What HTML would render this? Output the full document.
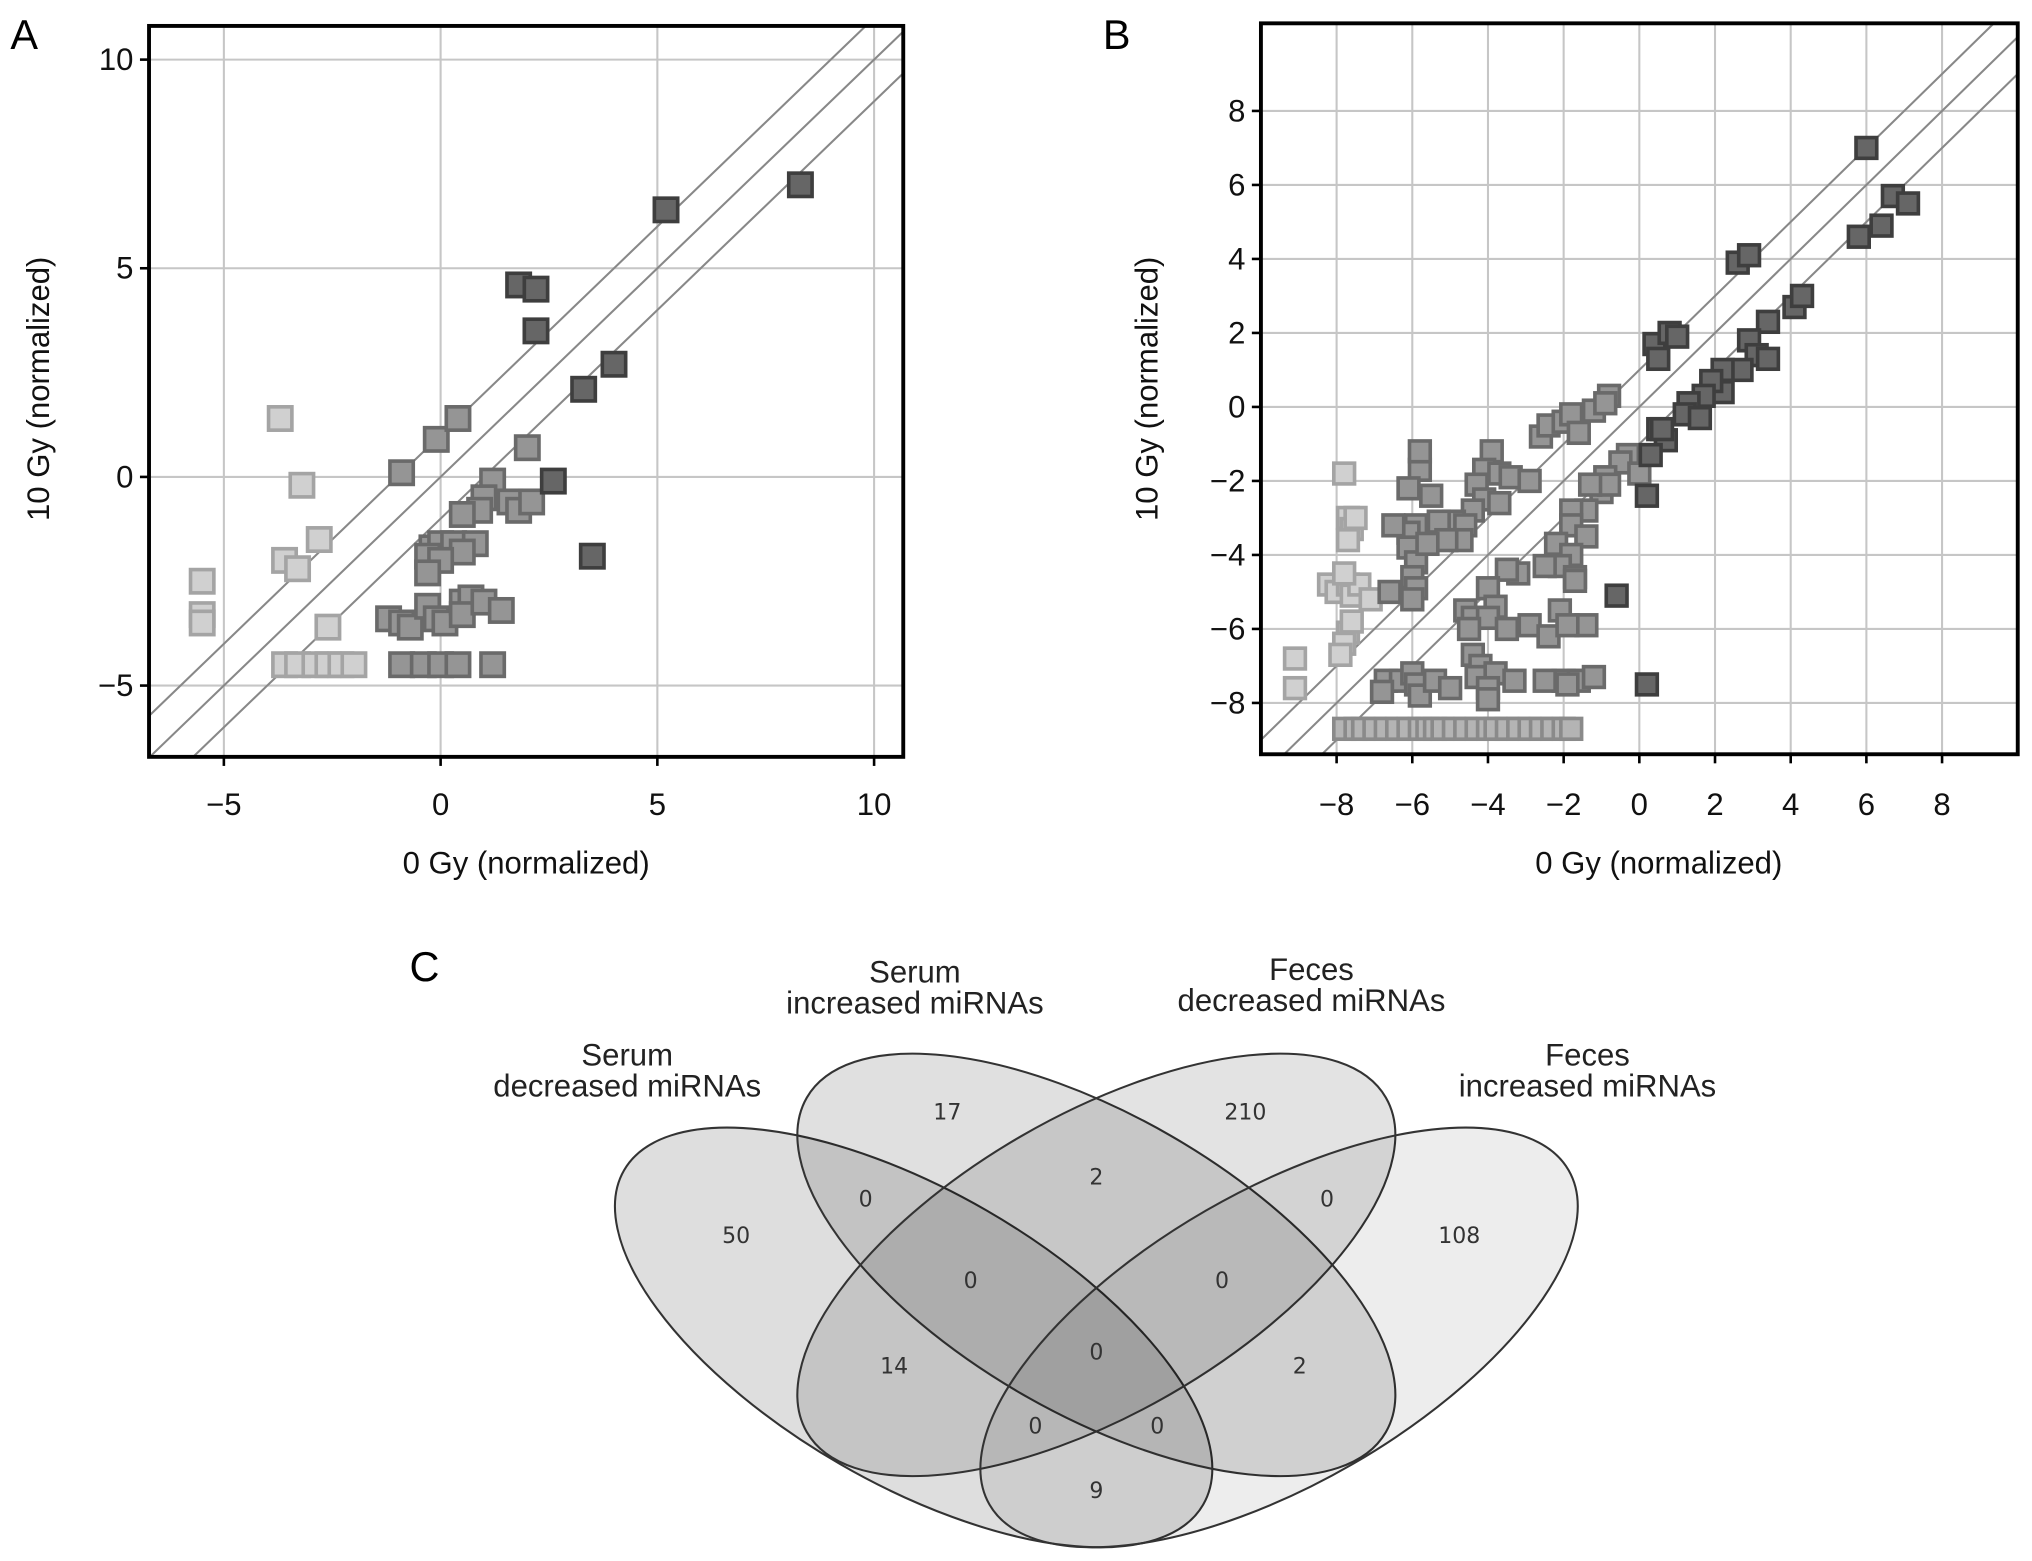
<!DOCTYPE html>
<html><head><meta charset="utf-8"><style>
html,body{margin:0;padding:0;background:#fff;}
svg{display:block;font-family:"Liberation Sans",sans-serif;}
.num{font-family:"DejaVu Sans","Liberation Sans",sans-serif;font-size:17px;fill:#333;text-anchor:middle;}
.lab{font-size:24px;fill:#222;text-anchor:middle;}
.tick{font-size:24px;fill:#111;}
</style></head><body>
<svg id="fig" width="2032" height="1561" viewBox="0 0 1568 1204.5" preserveAspectRatio="none" xmlns="http://www.w3.org/2000/svg">
<defs>
<clipPath id="clipA"><rect x="115" y="20" width="582" height="564"/></clipPath>
<clipPath id="clipB"><rect x="973" y="18" width="584" height="564"/></clipPath>
</defs>
<text x="8" y="38" font-size="32">A</text>
<text x="851" y="38" font-size="32">B</text>
<text x="316" y="757" font-size="32">C</text>
<g id="panelA"></g>
<g id="panelB"></g>
<g id="venn">
<ellipse cx="705" cy="1032" rx="258" ry="113" transform="rotate(30 705 1032)" fill="rgba(0,0,0,0.13)" stroke="#333" stroke-width="1.6"/>
<ellipse cx="846" cy="976" rx="258" ry="115" transform="rotate(30 846 976)" fill="rgba(0,0,0,0.12)" stroke="#333" stroke-width="1.6"/>
<ellipse cx="846" cy="976" rx="258" ry="115" transform="rotate(-30 846 976)" fill="rgba(0,0,0,0.11)" stroke="#333" stroke-width="1.6"/>
<ellipse cx="987" cy="1032" rx="258" ry="113" transform="rotate(-30 987 1032)" fill="rgba(0,0,0,0.07)" stroke="#333" stroke-width="1.6"/>
<text class="lab" x="484" y="822">Serum</text>
<text class="lab" x="484" y="846">decreased miRNAs</text>
<text class="lab" x="706" y="758">Serum</text>
<text class="lab" x="706" y="782">increased miRNAs</text>
<text class="lab" x="1012" y="756">Feces</text>
<text class="lab" x="1012" y="780">decreased miRNAs</text>
<text class="lab" x="1225" y="822">Feces</text>
<text class="lab" x="1225" y="846">increased miRNAs</text>
</g>
</svg>
<script>
var NS='http://www.w3.org/2000/svg';
// ----- Panel A data -----
var aLightX=[-5.5,-5.5,-5.5,-3.7,-3.2,-3.6,-3.3,-2.8,-2.6,-3.6,-3.3,-2.9,-2.6,-2.3,-2.0];
var aLightY=[-2.5,-3.3,-3.5,1.4,-0.2,-2.0,-2.2,-1.5,-3.6,-4.5,-4.5,-4.5,-4.5,-4.5,-4.5];
var aMedX=[-0.9,-0.1,0.4,2.0,1.2,1.0,0.9,0.5,1.6,1.8,2.1,-0.2,0.0,0.3,0.8,0.5,-0.3,0.0,-0.3,-1.2,-0.9,-0.7,-0.3,-0.1,0.1,0.5,0.7,0.5,1.0,1.4,-0.9,-0.4,0.0,0.4,1.2];
var aMedY=[0.1,0.9,1.4,0.7,-0.1,-0.5,-0.8,-0.9,-0.6,-0.8,-0.6,-1.7,-1.6,-1.6,-1.6,-1.8,-1.9,-2.0,-2.3,-3.4,-3.5,-3.6,-3.1,-3.4,-3.5,-3.0,-2.9,-3.3,-3.0,-3.2,-4.5,-4.5,-4.5,-4.5,-4.5];
var aDarkX=[8.3,5.2,1.8,2.2,2.2,3.3,4.0,2.6,3.5];
var aDarkY=[7.0,6.4,4.6,4.5,3.5,2.1,2.7,-0.1,-1.9];
var aTicks=[-5,0,5,10];
var aDiagOffsets=[-1,0,1];
// ----- Panel B data -----
var bLightX=[-7.8,-7.7,-7.6,-7.7,-7.5,-8.2,-8.0,-7.7,-7.6,-7.4,-7.1,-7.8,-7.7,-7.8,-7.9,-9.1,-9.1,-7.6];
var bLightY=[-1.8,-3.0,-3.3,-3.6,-3.0,-4.8,-5.0,-4.8,-5.1,-4.8,-5.2,-4.5,-6.1,-6.4,-6.7,-6.8,-7.6,-5.8];
var bRowX=[-7.8,-7.5,-7.3,-7.0,-6.7,-6.4,-6.1,-5.8,-5.6,-5.4,-5.2,-4.9,-4.6,-4.3,-4.0,-3.8,-3.5,-3.2,-2.9,-2.6,-2.3,-2.0,-1.8];
var bRowY=[-8.7,-8.7,-8.7,-8.7,-8.7,-8.7,-8.7,-8.7,-8.7,-8.7,-8.7,-8.7,-8.7,-8.7,-8.7,-8.7,-8.7,-8.7,-8.7,-8.7,-8.7,-8.7,-8.7];
var bMedX=[-0.3,-0.5,0.0,-0.9,-1.0,-0.8,-1.3,-1.4,-1.8,-1.8,-1.4,-2.2,-1.8,-2.1,-1.7,-1.7,-2.5,-3.2,-3.5,-4.0,-3.8,-4.6,-4.4,-4.0,-4.5,-3.5,-2.9,-2.4,-2.1,-1.4,-1.9,-4.4,-4.2,-4.3,-3.8,-3.3,-4.0,-4.0,-2.0,-1.6,-1.2,-2.5,-1.9,
 -2.6,-2.4,-2.0,-1.8,-1.6,-1.2,-0.8,-0.9,
 -3.9,-4.1,-4.3,-3.7,-3.4,-2.9,-4.1,-4.4,-3.7,-4.9,-4.6,-4.7,-5.3,-5.1,-5.9,-6.1,-6.1,-5.9,-5.6,-5.5,-5.8,-5.8,-6.1,-6.5,-6.6,-6.0,-5.9,-6.0,
 -6.7,-6.3,-6.0,-5.9,-5.8,-5.4,-5.0,-6.8];
var bMedY=[-1.3,-1.5,-1.8,-1.9,-2.3,-2.1,-2.1,-2.8,-2.8,-3.2,-3.5,-3.7,-4.0,-4.3,-4.6,-4.7,-4.3,-4.5,-4.4,-4.9,-5.4,-5.5,-5.7,-5.7,-6.0,-6.0,-5.9,-6.2,-5.5,-5.9,-5.9,-6.7,-7.0,-7.3,-7.2,-7.4,-7.6,-7.9,-7.4,-7.4,-7.3,-7.4,-7.5,
 -0.8,-0.5,-0.4,-0.2,-0.7,-0.1,0.3,0.1,
 -1.2,-1.7,-2.1,-1.8,-1.9,-2.0,-2.5,-2.8,-2.6,-3.1,-3.2,-3.6,-3.1,-3.6,-3.2,-3.4,-3.8,-4.2,-3.7,-2.4,-1.7,-1.2,-2.2,-3.2,-5.0,-4.6,-4.9,-5.2,
 -7.4,-7.4,-7.2,-7.5,-7.8,-7.4,-7.6,-7.7];
var bDarkX=[6.0,6.7,7.1,5.8,6.4,2.6,2.9,4.1,4.3,3.4,2.9,3.1,3.4,2.7,2.2,2.2,1.9,1.7,1.3,1.2,1.6,0.5,0.7,0.3,0.6,0.4,0.5,0.8,1.0,0.2,-0.6,0.2];
var bDarkY=[7.0,5.7,5.5,4.6,4.9,3.9,4.1,2.7,3.0,2.3,1.8,1.4,1.3,1.0,1.0,0.4,0.7,0.3,0.1,-0.2,-0.3,-0.6,-0.9,-1.3,-0.6,1.7,1.3,2.0,1.9,-7.5,-5.1,-2.4];
var bTicks=[-8,-6,-4,-2,0,2,4,6,8];
var bDiagOffsets=[-1,0,1];
// ----- Venn data -----
var vennCounts=['50','17','210','108','0','2','0','0','0','0','14','2','0','0','9'];
var vennNames=['only-serum-dec','only-serum-inc','only-feces-dec','only-feces-inc','sdec-sinc','sinc-fdec','fdec-finc','sdec-sinc-fdec','sinc-fdec-finc','all-four','sdec-fdec','sinc-finc','sdec-fdec-finc','sdec-sinc-finc','sdec-finc'];
var vennLX=[568,731,961,1126,668,846,1024,749,943,846,690,1003,799,893,846];
var vennLY=[959,864,864,959,931,914,931,994,994,1049,1060,1060,1106,1106,1156];

function mk(parent,tag,attrs){var e=document.createElementNS(NS,tag);for(var k in attrs)e.setAttribute(k,attrs[k]);parent.appendChild(e);return e;}

function panel(g,cfg){
  var sx=cfg.sx, sy=cfg.sy, f=cfg.frame;
  var grid=mk(g,'g',{'clip-path':'url(#'+cfg.clip+')'});
  
  
  cfg.xGrid.forEach(function(v){mk(grid,'line',{x1:sx(v),x2:sx(v),y1:f.y,y2:f.y+f.h,stroke:'#c6c6c6','stroke-width':1.6});});
  cfg.yGrid.forEach(function(v){mk(grid,'line',{x1:f.x,x2:f.x+f.w,y1:sy(v),y2:sy(v),stroke:'#c6c6c6','stroke-width':1.6});});
  cfg.diag.forEach(function(o){
    var l=mk(grid,'line',{x1:sx(-20),y1:sy(-20+o),x2:sx(20),y2:sy(20+o),stroke:'#888','stroke-width':1.6});
    
    
  });
  var pts=mk(g,'g',{'clip-path':'url(#'+cfg.clip+')'});
  cfg.groups.forEach(function(gr){
    for(var i=0;i<gr.x.length;i++){
      var s=cfg.size;
      var r=mk(pts,'rect',{x:sx(gr.x[i])-s/2,y:sy(gr.y[i])-s/2,width:s,height:s,fill:gr.fill,stroke:gr.stroke,'stroke-width':2.8});
      
      
    }
  });
  var fr=mk(g,'rect',{x:f.x,y:f.y,width:f.w,height:f.h,fill:'none',stroke:'#000','stroke-width':3});
  
  
  cfg.xTicks.forEach(function(v){
    mk(g,'line',{x1:sx(v),x2:sx(v),y1:f.y+f.h,y2:f.y+f.h+7,stroke:'#000','stroke-width':2});
    var t=mk(g,'text',{x:sx(v),y:629,'text-anchor':'middle','class':'tick'});
    t.textContent=(v<0?'\u2212'+(-v):''+v);
    
    
  });
  cfg.yTicks.forEach(function(v){
    mk(g,'line',{x1:f.x-7,x2:f.x,y1:sy(v),y2:sy(v),stroke:'#000','stroke-width':2});
    var t=mk(g,'text',{x:f.x-12,y:sy(v)+8,'text-anchor':'end','class':'tick'});
    t.textContent=(v<0?'\u2212'+(-v):''+v);
    
    
  });
  var xt=mk(g,'text',{x:cfg.xTitle[0],y:cfg.xTitle[1],'text-anchor':'middle','font-size':24,fill:'#111'});
  xt.textContent='0 Gy (normalized)';
  
  
  var yt=mk(g,'text',{x:0,y:0,'text-anchor':'middle','font-size':24,fill:'#111',transform:'translate('+cfg.yTitle[0]+','+cfg.yTitle[1]+') rotate(-90)'});
  yt.textContent='10 Gy (normalized)';
  
  
}
var LIGHT={fill:'#d0d0d0',stroke:'#a4a4a4'}, MED={fill:'#959595',stroke:'#6a6a6a'}, DARK={fill:'#666',stroke:'#3e3e3e'}, ROW={fill:'#b4b4b4',stroke:'#8a8a8a'};
panel(document.getElementById('panelA'),{
  sx:function(v){return 340+v*33.45;}, sy:function(v){return 368-v*32.2;},
  frame:{x:115,y:20,w:582,h:564}, clip:'clipA', size:18,
  xGrid:aTicks, yGrid:aTicks, xTicks:aTicks, yTicks:aTicks, diag:aDiagOffsets,
  groups:[{name:'light',x:aLightX,y:aLightY,fill:LIGHT.fill,stroke:LIGHT.stroke},
          {name:'medium',x:aMedX,y:aMedY,fill:MED.fill,stroke:MED.stroke},
          {name:'dark',x:aDarkX,y:aDarkY,fill:DARK.fill,stroke:DARK.stroke}],
  xTitle:[406,674], yTitle:[38,300]
});
panel(document.getElementById('panelB'),{
  sx:function(v){return 1265+v*29.2;}, sy:function(v){return 314-v*28.55;},
  frame:{x:973,y:18,w:584,h:564}, clip:'clipB', size:16,
  xGrid:bTicks, yGrid:bTicks, xTicks:bTicks, yTicks:bTicks, diag:bDiagOffsets,
  groups:[{name:'light',x:bLightX,y:bLightY,fill:LIGHT.fill,stroke:LIGHT.stroke},
          {name:'bottom-row',x:bRowX,y:bRowY,fill:ROW.fill,stroke:ROW.stroke},
          {name:'medium',x:bMedX,y:bMedY,fill:MED.fill,stroke:MED.stroke},
          {name:'dark',x:bDarkX,y:bDarkY,fill:DARK.fill,stroke:DARK.stroke}],
  xTitle:[1280,674], yTitle:[893,300]
});
var venn=document.getElementById('venn');
for(var i=0;i<vennCounts.length;i++){
  var t=mk(venn,'text',{x:vennLX[i],y:vennLY[i],'class':'num'});
  t.textContent=vennCounts[i];
  
  
}
</script>
</body></html>
